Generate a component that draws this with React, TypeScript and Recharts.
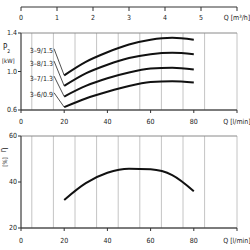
import React from 'react'
import { LineChart, Line, XAxis, YAxis, CartesianGrid, ReferenceLine, ReferenceDot } from 'recharts'

const flow = [20, 30, 40, 50, 60, 70, 80]
const p39 = [0.96, 1.1, 1.2, 1.28, 1.33, 1.35, 1.33]
const p38 = [0.85, 0.98, 1.07, 1.14, 1.18, 1.195, 1.18]
const p37 = [0.74, 0.85, 0.93, 0.99, 1.03, 1.04, 1.02]
const p36 = [0.63, 0.72, 0.79, 0.85, 0.89, 0.9, 0.885]
const eta = [32.2, 39.5, 44, 45.8, 45.5, 43, 36]

const curveNames = ['3–9/1.5', '3–8/1.3', '3–7/1.3', '3–6/0.9']
const curveKeys = ['p39', 'p38', 'p37', 'p36']
const labelY = [1.216, 1.088, 0.932, 0.759]

const m3Ticks = [0, 1, 2, 3, 4, 5, 6]
const qTicks = [0, 20, 40, 60, 80, 100]
const qGrid = [0, 5, 10, 15, 20, 25, 30, 35, 40, 45, 50, 55, 60, 65, 70, 75, 80, 85, 90, 95, 100]
const pTicks = [0.6, 1.0, 1.4]
const pGrid = [0.6, 0.7, 0.8, 0.9, 1.0, 1.1, 1.2, 1.3, 1.4]
const etaTicks = [20, 40, 60]
const etaGrid = [20, 30, 40, 50, 60]

const powerData = flow.map((q, i) => ({ q, p39: p39[i], p38: p38[i], p37: p37[i], p36: p36[i] }))
const etaData = flow.map((q, i) => ({ q, eta: eta[i] }))
const curveStart = [p39[0], p38[0], p37[0], p36[0]]

const font = "'Liberation Sans Narrow', 'DejaVu Sans Condensed', sans-serif"
const tickStyle = { fontSize: 7, fill: '#222' }
const qFmt = (v: number) => (v === 100 ? 'Q [l/min]' : String(v))
const pFmt = (v: number) => v.toFixed(1)

const App: React.FC = () => (
  <div style={{ position: 'absolute', left: 0, top: 0, width: 250, height: 250, background: '#fff', fontFamily: font }}>
    {/* m³/h scale on top */}
    <LineChart width={250} height={27} data={[{ m3: 0 }, { m3: 6 }]} margin={{ top: 2, right: 13, bottom: 0, left: 21 }}>
      <XAxis dataKey="m3" type="number" domain={[0, 6]} ticks={m3Ticks} height={20} tickSize={4} tickMargin={4}
        tick={tickStyle} stroke="#333" interval={0} tickFormatter={(v: number) => (v === 6 ? 'Q [m³/h]' : String(v))} />
      <YAxis hide domain={[0, 1]} />
    </LineChart>

    {/* P2 curves */}
    <LineChart width={250} height={101} data={powerData} margin={{ top: 6, right: 13, bottom: 0, left: 0 }}>
      <XAxis xAxisId="grid" dataKey="q" type="number" domain={[0, 100]} ticks={qGrid} hide />
      <YAxis yAxisId="grid" type="number" domain={[0.6, 1.4]} ticks={pGrid} hide />
      <CartesianGrid xAxisId="grid" yAxisId="grid" horizontal={false} stroke="#c4c4c4" strokeWidth={1} />
      <CartesianGrid xAxisId="grid" yAxisId="grid" vertical={false} stroke="#8a8a8a" strokeWidth={1} />
      <XAxis dataKey="q" type="number" domain={[0, 100]} ticks={qTicks} interval={0} height={18} tickSize={3} tickMargin={6}
        tick={tickStyle} stroke="#333" tickFormatter={qFmt} />
      <YAxis type="number" domain={[0.6, 1.4]} ticks={pTicks} width={21} tickSize={3} tickMargin={1}
        tick={tickStyle} stroke="#333" tickFormatter={pFmt} />
      {curveKeys.map((k) => (
        <Line key={k} dataKey={k} type="monotone" stroke="#111" strokeWidth={2} dot={false} isAnimationActive={false} />
      ))}
      {curveNames.map((n, i) => (
        <ReferenceLine key={'l' + n} segment={[{ x: 15.3, y: labelY[i] + 0.02 }, { x: 20, y: curveStart[i] }]}
          stroke="#222" strokeWidth={0.8} />
      ))}
      {curveNames.map((n, i) => (
        <ReferenceDot key={'d' + n} x={14.8} y={labelY[i]} r={0} stroke="none" fill="none"
          label={{ value: n, position: 'left', offset: 0, fontSize: 7, fill: '#222' }} />
      ))}
    </LineChart>

    {/* efficiency */}
    <LineChart width={250} height={122} data={etaData} margin={{ top: 8, right: 13, bottom: 0, left: 0 }}>
      <XAxis xAxisId="grid" dataKey="q" type="number" domain={[0, 100]} ticks={qGrid} hide />
      <YAxis yAxisId="grid" type="number" domain={[20, 60]} ticks={etaGrid} hide />
      <CartesianGrid xAxisId="grid" yAxisId="grid" horizontal={false} stroke="#c4c4c4" strokeWidth={1} />
      <CartesianGrid xAxisId="grid" yAxisId="grid" vertical={false} stroke="#8a8a8a" strokeWidth={1} />
      <XAxis dataKey="q" type="number" domain={[0, 100]} ticks={qTicks} interval={0} height={22} tickSize={3} tickMargin={7}
        tick={tickStyle} stroke="#333" tickFormatter={qFmt} />
      <YAxis type="number" domain={[20, 60]} ticks={etaTicks} width={21} tickSize={3} tickMargin={1}
        tick={tickStyle} stroke="#333" />
      <Line dataKey="eta" type="monotone" stroke="#111" strokeWidth={2} dot={false} isAnimationActive={false} />
    </LineChart>

    <div style={{ position: 'absolute', left: 3, top: 44, fontSize: 8, color: '#222', lineHeight: 1 }}>
      P<sub style={{ fontSize: 5 }}>2</sub>
    </div>
    <div style={{ position: 'absolute', left: 2, top: 58, fontSize: 6, color: '#222', lineHeight: 1 }}>[kW]</div>
    <div style={{ position: 'absolute', left: 2, top: 146, fontSize: 8, color: '#222', lineHeight: 1, transform: 'rotate(-90deg)' }}>η</div>
    <div style={{ position: 'absolute', left: 0, top: 159, fontSize: 6, color: '#222', lineHeight: 1, transform: 'rotate(-90deg)' }}>[%]</div>
  </div>
)

export default App
